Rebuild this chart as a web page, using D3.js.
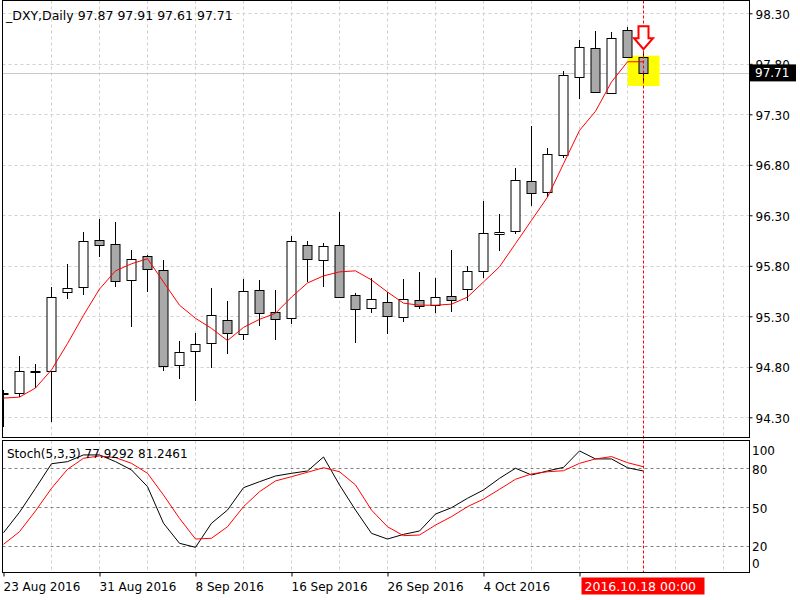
<!DOCTYPE html>
<html><head><meta charset="utf-8">
<script src="https://cdn.jsdelivr.net/npm/d3@7"></script>
<style>
body{margin:0;background:#fff}
svg{display:block}
text{font-family:"DejaVu Sans",sans-serif;font-size:12px;fill:#000}
</style>
</head><body><svg id="c" width="800" height="600"></svg>
<script>
// ---------------- data ----------------
const dates = ["2016.08.23","2016.08.24","2016.08.25","2016.08.26","2016.08.29","2016.08.30","2016.08.31",
  "2016.09.01","2016.09.02","2016.09.05","2016.09.06","2016.09.07","2016.09.08","2016.09.09","2016.09.12",
  "2016.09.13","2016.09.14","2016.09.15","2016.09.16","2016.09.19","2016.09.20","2016.09.21","2016.09.22",
  "2016.09.23","2016.09.26","2016.09.27","2016.09.28","2016.09.29","2016.09.30","2016.10.03","2016.10.04",
  "2016.10.05","2016.10.06","2016.10.07","2016.10.10","2016.10.11","2016.10.12","2016.10.13","2016.10.14",
  "2016.10.17","2016.10.18"];
const openP  = [94.54,94.54,94.75,94.76,95.54,95.59,96.06,96.02,95.66,95.90,95.76,94.82,94.96,95.04,95.26,
  95.12,95.56,95.34,95.28,96.01,95.86,96.01,95.51,95.38,95.44,95.29,95.46,95.41,95.50,95.57,95.75,
  96.11,96.14,96.64,96.53,96.90,97.67,97.96,97.51,98.13,97.87];
const highP  = [94.57,94.91,94.83,95.59,95.82,96.13,96.26,96.23,95.96,95.91,95.86,95.06,95.13,95.58,95.45,
  95.67,95.66,95.56,96.10,96.05,96.03,96.33,95.53,95.68,95.54,95.67,95.74,95.68,95.96,95.80,96.44,
  96.31,96.77,97.18,96.97,97.73,98.04,98.12,98.11,98.16,97.91];
const lowP   = [94.20,94.50,94.59,94.25,95.47,95.51,95.89,95.59,95.19,95.54,94.76,94.68,94.46,94.79,94.93,
  95.07,95.20,95.07,95.22,95.64,95.59,95.48,95.04,95.33,95.12,95.24,95.37,95.33,95.34,95.45,95.68,
  95.95,96.11,96.39,96.48,96.87,97.45,97.51,97.50,97.86,97.61];
const closeP = [94.53,94.76,94.755,95.49,95.58,96.05,96.01,95.65,95.87,95.77,94.81,94.95,95.03,95.31,95.13,
  95.55,95.33,95.27,96.05,95.87,96.00,95.49,95.37,95.47,95.30,95.47,95.40,95.49,95.46,95.75,96.12,
  96.13,96.65,96.52,96.91,97.69,97.97,97.52,98.06,97.87,97.71];
const maLine = [94.49,94.50,94.59,94.77,95.03,95.31,95.57,95.75,95.82,95.87,95.64,95.41,95.28,95.18,95.06,
  95.19,95.27,95.33,95.49,95.63,95.70,95.74,95.75,95.66,95.54,95.43,95.41,95.41,95.42,95.49,95.64,
  95.79,96.02,96.25,96.48,96.81,97.14,97.33,97.62,97.82,97.82];
const stochMain = [30.3,46.1,64.6,83.6,85.2,90.4,90.4,85.2,78.8,65.9,37.6,22.1,19.0,37.6,47.8,
  65.1,69.7,74.1,76.2,78.0,88.8,67.2,47.8,29.8,25.4,29.0,31.6,44.7,49.6,56.9,63.3,
  72.3,80.1,74.9,78.0,80.8,93.5,87.3,87.3,80.5,77.9292];
const stochSignal = [21.3,31.1,47.1,64.6,79.3,87.8,89.6,88.3,83.9,76.2,59.4,41.4,25.4,26.0,34.9,
  50.4,62.0,70.3,73.6,77.0,80.5,77.4,67.2,47.8,34.9,28.0,28.5,36.2,42.7,50.4,56.3,
  63.8,71.6,75.7,77.4,78.2,83.9,87.3,89.1,84.4,81.2461];
const priceTicks = [94.30,94.80,95.30,95.80,96.30,96.80,97.30,97.80,98.30];
const stochTicks = [100,80,50,20,0];
const stochLevels = [80,50,20];
const dateTickIdx = [0,6,12,18,24,30,36];
const dateTickLabels = ["23 Aug 2016","31 Aug 2016","8 Sep 2016","16 Sep 2016","26 Sep 2016","4 Oct 2016","12 Oct 2016"];
const symbolTitle = "_DXY,Daily";
const stochTitle = "Stoch(5,3,3)";
const cursorLabel = "2016.10.18 00:00";

// ---------------- layout ----------------
const svg = d3.select("#c");
const L = 2.5, R = 749.5;
const mainTop = 0.5, mainBot = 437.5;
const stTop = 440.5, stBot = 572.5;
const n = dates.length;
const last = n - 1;

const x = d3.scaleLinear().domain([0, 46.625]).range([3.5, 749.5]);
const y = d3.scaleLinear().domain([94.30, 98.30]).range([417.3, 13.3]);
const ys = d3.scaleLinear().domain([0, 100]).range([571.9, 442.5]);
const crisp = v => Math.round(v) + 0.5;

const defs = svg.append("defs");
defs.append("clipPath").attr("id","cm").append("rect").attr("x",L).attr("y",mainTop).attr("width",R-L).attr("height",mainBot-mainTop);
defs.append("clipPath").attr("id","cs").append("rect").attr("x",L).attr("y",stTop).attr("width",R-L).attr("height",stBot-stTop);

const gm = svg.append("g").attr("clip-path","url(#cm)");
const gs = svg.append("g").attr("clip-path","url(#cs)");

// vertical grid (every 3 bars)
const vg = d3.range(3, 47, 3);
[gm, gs].forEach((g, k) => {
  g.selectAll("line.vg").data(vg).join("line")
    .attr("x1", d => x(d)).attr("x2", d => x(d))
    .attr("y1", k ? stTop : mainTop).attr("y2", k ? stBot : mainBot)
    .attr("stroke", "#d0d0d0").attr("stroke-dasharray", "3,3");
});
// horizontal price grid
gm.selectAll("line.hg").data(priceTicks).join("line")
  .attr("x1", L).attr("x2", R)
  .attr("y1", d => crisp(y(d))).attr("y2", d => crisp(y(d)))
  .attr("stroke", "#d0d0d0").attr("stroke-dasharray", "3,3");
// stoch levels
gs.selectAll("line.lv").data(stochLevels).join("line")
  .attr("x1", L).attr("x2", R)
  .attr("y1", d => crisp(ys(d))).attr("y2", d => crisp(ys(d)))
  .attr("stroke", "#808080").attr("stroke-dasharray", "3,3");

// current price line
gm.append("line").attr("x1", L).attr("x2", R)
  .attr("y1", crisp(y(closeP[last]))).attr("y2", crisp(y(closeP[last])))
  .attr("stroke", "#c8c8c8");

// highlight box around last bar
gm.append("rect")
  .attr("x", x(last) - 16).attr("width", 32)
  .attr("y", y(highP[last]) + 3).attr("height", y(lowP[last]) - y(highP[last]))
  .attr("fill", "#ffff00");

// cursor vertical line
svg.append("line").attr("x1", x(last)).attr("x2", x(last))
  .attr("y1", mainTop).attr("y2", stBot)
  .attr("stroke", "#ff0000").attr("stroke-dasharray", "3,2");

// candles
const idx = d3.range(n);
gm.selectAll("line.wick").data(idx).join("line")
  .attr("x1", i => x(i)).attr("x2", i => x(i))
  .attr("y1", i => Math.round(y(highP[i]))).attr("y2", i => Math.round(y(lowP[i])))
  .attr("stroke", "#000");
gm.selectAll("rect.body").data(idx).join("rect")
  .attr("x", i => x(i) - 4.5).attr("width", 9)
  .attr("y", i => crisp(y(Math.max(openP[i], closeP[i]))))
  .attr("height", i => Math.abs(crisp(y(openP[i])) - crisp(y(closeP[i]))))
  .attr("fill", i => closeP[i] < openP[i] ? "#a9a9a9" : "#ffffff")
  .attr("stroke", "#000");

// moving average
gm.append("path").datum(idx)
  .attr("d", d3.line().x(i => x(i)).y(i => y(maLine[i])))
  .attr("fill", "none").attr("stroke", "#ff0000").attr("stroke-width", 1);

// stochastic lines
gs.append("path").datum(idx)
  .attr("d", d3.line().x(i => x(i)).y(i => ys(stochMain[i])))
  .attr("fill", "none").attr("stroke", "#000").attr("stroke-width", 1);
gs.append("path").datum(idx)
  .attr("d", d3.line().x(i => x(i)).y(i => ys(stochSignal[i])))
  .attr("fill", "none").attr("stroke", "#ff0000").attr("stroke-width", 1);

// down arrow above last bar
const ax = x(last), tip = y(highP[last]) - 3.5;
const arrow = [[ax-5,tip-23],[ax+5,tip-23],[ax+5,tip-11],[ax+9.5,tip-11],[ax,tip],[ax-9.5,tip-11],[ax-5,tip-11]];
svg.append("path").attr("d", d3.line()(arrow) + "Z")
  .attr("fill", "#fff").attr("stroke", "#ff0000").attr("stroke-width", 2);

// frames
svg.append("rect").attr("x", L).attr("y", mainTop).attr("width", R-L).attr("height", mainBot-mainTop)
  .attr("fill", "none").attr("stroke", "#000");
svg.append("rect").attr("x", L).attr("y", stTop).attr("width", R-L).attr("height", stBot-stTop)
  .attr("fill", "none").attr("stroke", "#000");

// price axis
const pa = svg.append("g").attr("transform", `translate(${R},0)`)
  .call(d3.axisRight(y).tickValues(priceTicks).tickFormat(d3.format(".2f")).tickSize(3).tickPadding(3));
pa.select(".domain").remove();
pa.selectAll("line").attr("stroke", "#000");
pa.selectAll("text").attr("font-family", null).attr("font-size", null).attr("dy", "0.42em");

// last price tag
const py = y(closeP[last]);
svg.append("rect").attr("x", 750).attr("y", py - 8.5).attr("width", 46).attr("height", 17).attr("fill", "#000");
svg.append("text").attr("x", 755).attr("y", py).attr("dy", "0.36em").style("fill", "#fff")
  .text(d3.format(".2f")(closeP[last]));

// stoch axis labels
svg.selectAll("text.sl").data(stochTicks).join("text")
  .attr("x", 752).attr("y", d => Math.min(Math.max(ys(d) + 1, stTop + 10.5), stBot - 8.5))
  .attr("dy", "0.36em").text(d => d);

// date axis (labels hidden under the cursor tag are not drawn, as in the terminal)
const tagL = x(last) - 62, tagR = tagL + 123;
const da = svg.append("g").attr("transform", `translate(0,${stBot})`)
  .call(d3.axisBottom(x).tickValues(dateTickIdx)
    .tickFormat((d, i) => (x(d) + 80 > tagL && x(d) < tagR) ? "" : dateTickLabels[i])
    .tickSize(4).tickPadding(6));
da.select(".domain").remove();
da.selectAll("line").attr("stroke", "#000");
da.selectAll("text").attr("font-family", null).attr("font-size", null).attr("text-anchor", "start").attr("x", -0.5);

// cursor date tag
svg.append("rect").attr("x", tagL).attr("y", 577.5).attr("width", 123).attr("height", 17).attr("fill", "#ff0000");
svg.append("text").attr("x", tagL + 3).attr("y", 591).style("fill", "#fff").style("font-size", "12.5px").text(cursorLabel);

// headers
const f2 = d3.format(".2f");
svg.append("text").attr("x", 6).attr("y", 20).style("font-size", "12.5px")
  .text(`${symbolTitle}  ${f2(openP[last])} ${f2(highP[last])} ${f2(lowP[last])} ${f2(closeP[last])}`);
svg.append("text").attr("x", 7).attr("y", 458)
  .text(`${stochTitle} ${stochMain[last].toFixed(4)} ${stochSignal[last].toFixed(4)}`);
</script>
</body></html>
